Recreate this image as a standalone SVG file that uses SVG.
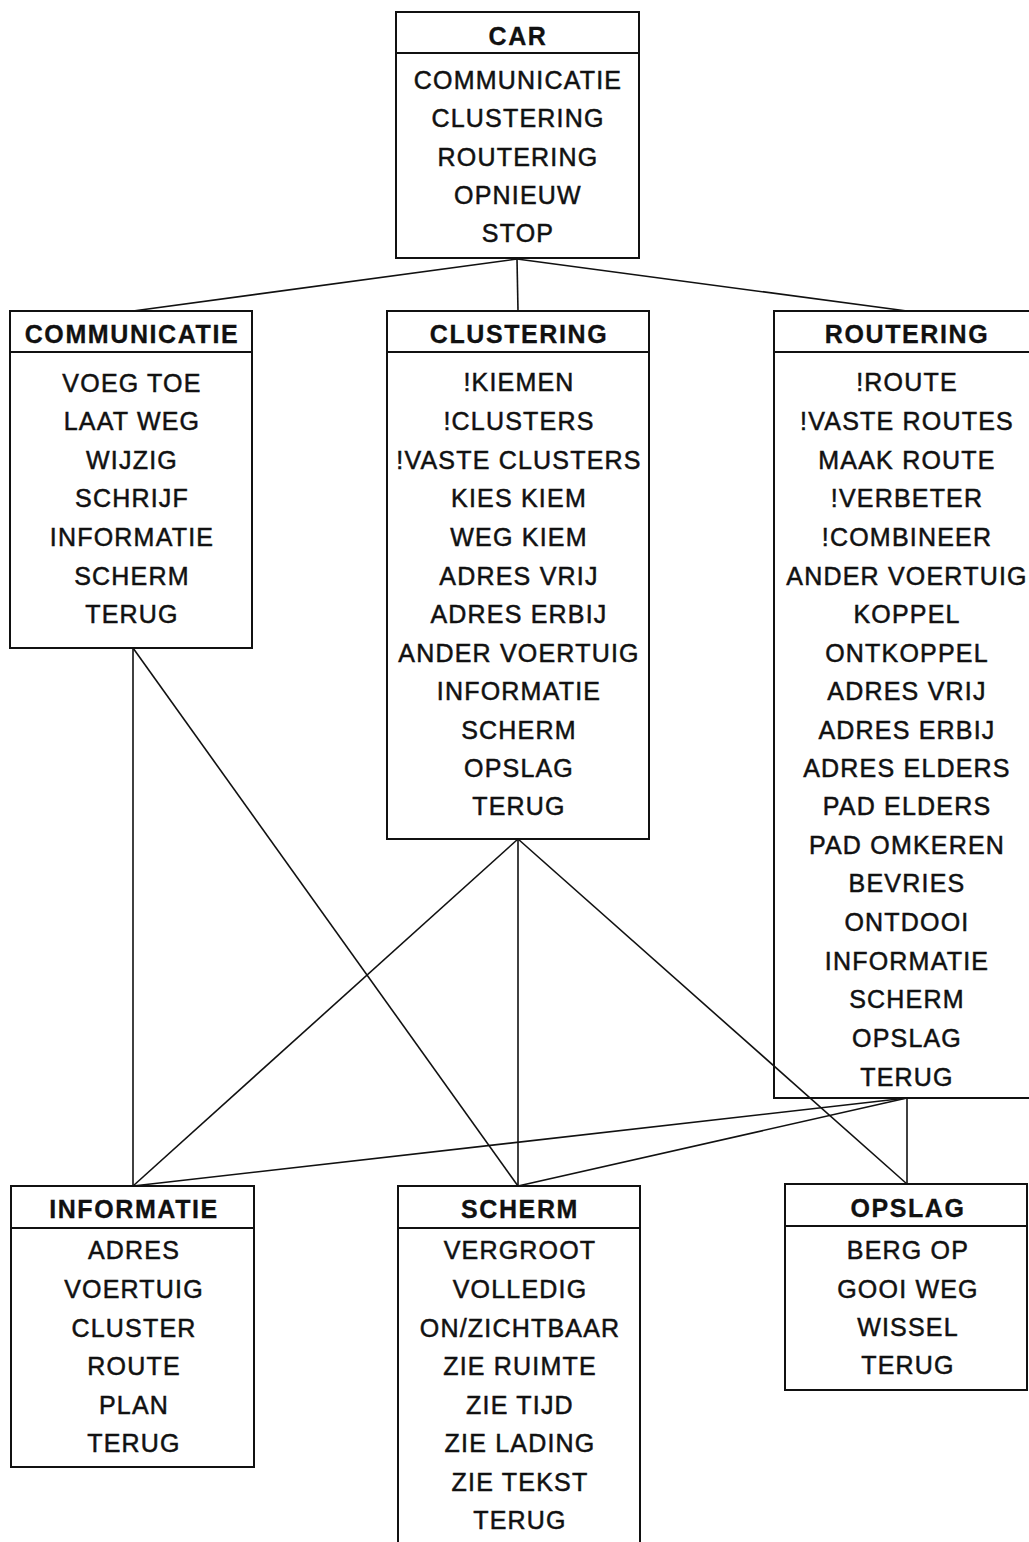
<svg xmlns="http://www.w3.org/2000/svg" width="1029" height="1542" viewBox="0 0 1029 1542">
<style>
.box{fill:#fff;stroke:#111;stroke-width:2}
.hl{stroke:#111;stroke-width:2}
.con{stroke:#111;stroke-width:1.6;fill:none}
text{font-family:"Liberation Sans",Arial,sans-serif;font-size:25px;fill:#111;stroke:#111;stroke-width:0.5;letter-spacing:1.2px;text-anchor:middle}
.h{font-weight:bold;letter-spacing:1.6px;stroke-width:0.3}
</style>
<rect width="1029" height="1542" fill="#fff"/>
<g id="car">
<rect class="box" x="396" y="12" width="243" height="246"/>
<line class="hl" x1="396" y1="53" x2="639" y2="53"/>
<text class="h" x="518" y="45">CAR</text>
<text x="518" y="89">COMMUNICATIE</text>
<text x="518" y="127">CLUSTERING</text>
<text x="518" y="166">ROUTERING</text>
<text x="518" y="204">OPNIEUW</text>
<text x="518" y="242">STOP</text>
</g>
<g id="communicatie">
<rect class="box" x="10" y="311" width="242" height="337"/>
<line class="hl" x1="10" y1="352" x2="252" y2="352"/>
<text class="h" x="132" y="343">COMMUNICATIE</text>
<text x="132" y="392">VOEG TOE</text>
<text x="132" y="430">LAAT WEG</text>
<text x="132" y="469">WIJZIG</text>
<text x="132" y="507">SCHRIJF</text>
<text x="132" y="546">INFORMATIE</text>
<text x="132" y="585">SCHERM</text>
<text x="132" y="623">TERUG</text>
</g>
<g id="clustering">
<rect class="box" x="387" y="311" width="262" height="528"/>
<line class="hl" x1="387" y1="352" x2="649" y2="352"/>
<text class="h" x="519" y="343">CLUSTERING</text>
<text x="519" y="391">!KIEMEN</text>
<text x="519" y="430">!CLUSTERS</text>
<text x="519" y="469">!VASTE CLUSTERS</text>
<text x="519" y="507">KIES KIEM</text>
<text x="519" y="546">WEG KIEM</text>
<text x="519" y="585">ADRES VRIJ</text>
<text x="519" y="623">ADRES ERBIJ</text>
<text x="519" y="662">ANDER VOERTUIG</text>
<text x="519" y="700">INFORMATIE</text>
<text x="519" y="739">SCHERM</text>
<text x="519" y="777">OPSLAG</text>
<text x="519" y="815">TERUG</text>
</g>
<g id="routering">
<rect class="box" x="774" y="311" width="270" height="787"/>
<line class="hl" x1="774" y1="352" x2="1044" y2="352"/>
<text class="h" x="907" y="343">ROUTERING</text>
<text x="907" y="391">!ROUTE</text>
<text x="907" y="430">!VASTE ROUTES</text>
<text x="907" y="469">MAAK ROUTE</text>
<text x="907" y="507">!VERBETER</text>
<text x="907" y="546">!COMBINEER</text>
<text x="907" y="585">ANDER VOERTUIG</text>
<text x="907" y="623">KOPPEL</text>
<text x="907" y="662">ONTKOPPEL</text>
<text x="907" y="700">ADRES VRIJ</text>
<text x="907" y="739">ADRES ERBIJ</text>
<text x="907" y="777">ADRES ELDERS</text>
<text x="907" y="815">PAD ELDERS</text>
<text x="907" y="854">PAD OMKEREN</text>
<text x="907" y="892">BEVRIES</text>
<text x="907" y="931">ONTDOOI</text>
<text x="907" y="970">INFORMATIE</text>
<text x="907" y="1008">SCHERM</text>
<text x="907" y="1047">OPSLAG</text>
<text x="907" y="1086">TERUG</text>
</g>
<g id="informatie">
<rect class="box" x="11" y="1186" width="243" height="281"/>
<line class="hl" x1="11" y1="1228" x2="254" y2="1228"/>
<text class="h" x="134" y="1218">INFORMATIE</text>
<text x="134" y="1259">ADRES</text>
<text x="134" y="1298">VOERTUIG</text>
<text x="134" y="1337">CLUSTER</text>
<text x="134" y="1375">ROUTE</text>
<text x="134" y="1414">PLAN</text>
<text x="134" y="1452">TERUG</text>
</g>
<g id="scherm">
<rect class="box" x="398" y="1186" width="242" height="370"/>
<line class="hl" x1="398" y1="1228" x2="640" y2="1228"/>
<text class="h" x="520" y="1218">SCHERM</text>
<text x="520" y="1259">VERGROOT</text>
<text x="520" y="1298">VOLLEDIG</text>
<text x="520" y="1337">ON/ZICHTBAAR</text>
<text x="520" y="1375">ZIE RUIMTE</text>
<text x="520" y="1414">ZIE TIJD</text>
<text x="520" y="1452">ZIE LADING</text>
<text x="520" y="1491">ZIE TEKST</text>
<text x="520" y="1529">TERUG</text>
</g>
<g id="opslag">
<rect class="box" x="785" y="1184" width="242" height="206"/>
<line class="hl" x1="785" y1="1226" x2="1027" y2="1226"/>
<text class="h" x="908" y="1217">OPSLAG</text>
<text x="908" y="1259">BERG OP</text>
<text x="908" y="1298">GOOI WEG</text>
<text x="908" y="1336">WISSEL</text>
<text x="908" y="1374">TERUG</text>
</g>
<g id="connectors">
<line class="con" x1="517" y1="259" x2="133" y2="311"/>
<line class="con" x1="517" y1="259" x2="518" y2="311"/>
<line class="con" x1="517" y1="259" x2="907" y2="311"/>
<line class="con" x1="133" y1="648" x2="133" y2="1186"/>
<line class="con" x1="133" y1="648" x2="518" y2="1186"/>
<line class="con" x1="518" y1="839" x2="133" y2="1186"/>
<line class="con" x1="518" y1="839" x2="518" y2="1186"/>
<line class="con" x1="518" y1="839" x2="907" y2="1184"/>
<line class="con" x1="907" y1="1098" x2="133" y2="1186"/>
<line class="con" x1="907" y1="1098" x2="518" y2="1186"/>
<line class="con" x1="907" y1="1098" x2="907" y2="1184"/>
</g>
</svg>
